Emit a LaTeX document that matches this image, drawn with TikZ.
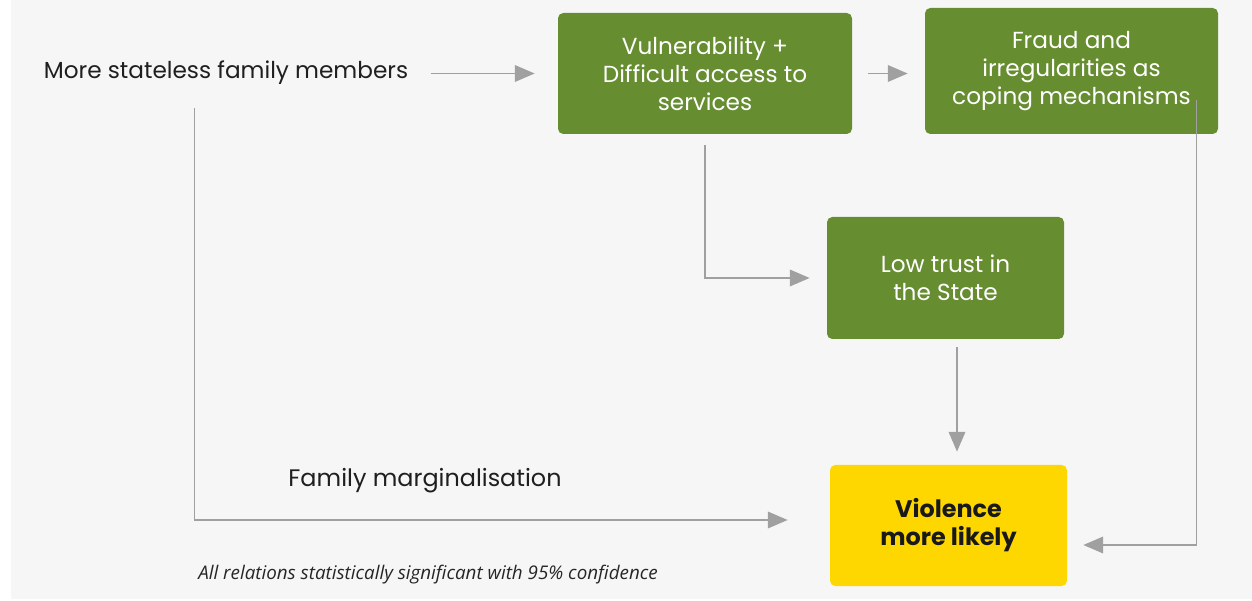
\documentclass[tikz,border=0pt]{standalone}
\usepackage{fontspec}
\setmainfont{Poppins}
\newfontfamily\notefont{Open Sans}
\usetikzlibrary{calc, arrows.meta}
\definecolor{bggray}{HTML}{F6F6F6}
\definecolor{leafgreen}{HTML}{678D31}
\definecolor{alertyellow}{HTML}{FFD700}
\definecolor{linegray}{HTML}{A0A0A0}
\tikzset{
    greenbox/.style={fill=leafgreen, rounded corners=3pt, text=white,
        align=center, font=\fontsize{13.2}{15.9}\selectfont, inner sep=0pt},
    yellowbox/.style={fill=alertyellow, rounded corners=3pt,
        text=black!90, align=center,
        font=\fontsize{13.6}{15.9}\selectfont\bfseries, inner sep=0pt},
    plainlabel/.style={text=black!88, font=\fontsize{13.2}{15}\selectfont,
        inner sep=0pt},
    conn/.style={draw=linegray, line width=0.8pt,
        -{Triangle[length=11.3pt, width=9.5pt]}},
}

\begin{document}
\begin{tikzpicture}[x=0.02cm, y=-0.02cm]
    \fill[white] (0, 0) rectangle (1252, 601); % Page edge
    \fill[bggray] (11, 0) rectangle (1252, 599);

    \node[plainlabel] (stateless) at (226, 73) {More stateless family members};
    \node[plainlabel, font=\fontsize{13.6}{15}\selectfont] (marginal)
        at (425, 481) {Family marginalisation};

    \node[greenbox, minimum width=294*0.02cm, minimum height=121*0.02cm]
        (vuln) at (705, 73.5) {Vulnerability +\\Difficult access to\\services};
    \node[greenbox, minimum width=293*0.02cm, minimum height=126*0.02cm]
        (fraud) at (1071.5, 71) {Fraud and\\irregularities as\\coping mechanisms};
    \node[greenbox, minimum width=237*0.02cm, minimum height=122*0.02cm]
        (trust) at (945.5, 278) {Low trust in\\the State};
    \node[yellowbox, minimum width=237*0.02cm, minimum height=121*0.02cm]
        (violence) at (948.5, 525.5) {Violence\\more likely};

    \draw[conn, shorten <=22*0.02cm, shorten >=23*0.02cm]
        (stateless.east |- vuln) -- (vuln.west); % Into vulnerability
    \draw[conn, shorten <=16*0.02cm, shorten >=17*0.02cm]
        (vuln.east) -- (vuln.east -| fraud.west);
    \draw[conn, shorten <=11*0.02cm, shorten >=17*0.02cm]
        (vuln.south) |- (trust.west);
    \draw[conn, shorten <=8*0.02cm, shorten >=13*0.02cm]
        ($(trust.south)+(11.5, 0)$) -- ($(violence.north)+(8.5, 0)$);
    \draw[conn, shorten >=16*0.02cm]
        ($(fraud.south east)+(-22, -34)$) |- ($(violence.east)+(0, 19.5)$);
    \draw[conn, shorten >=42*0.02cm]
        ($(stateless.south west)+(151, 23)$) |- ($(violence.west)+(0, -5.5)$);

    \node[anchor=west, text=black!85, inner sep=0pt,
        font=\notefont\itshape\fontsize{10.7}{12}\selectfont] (note) at (198, 575)
        {All relations statistically significant with 95\% confidence};
\end{tikzpicture}
\end{document}
